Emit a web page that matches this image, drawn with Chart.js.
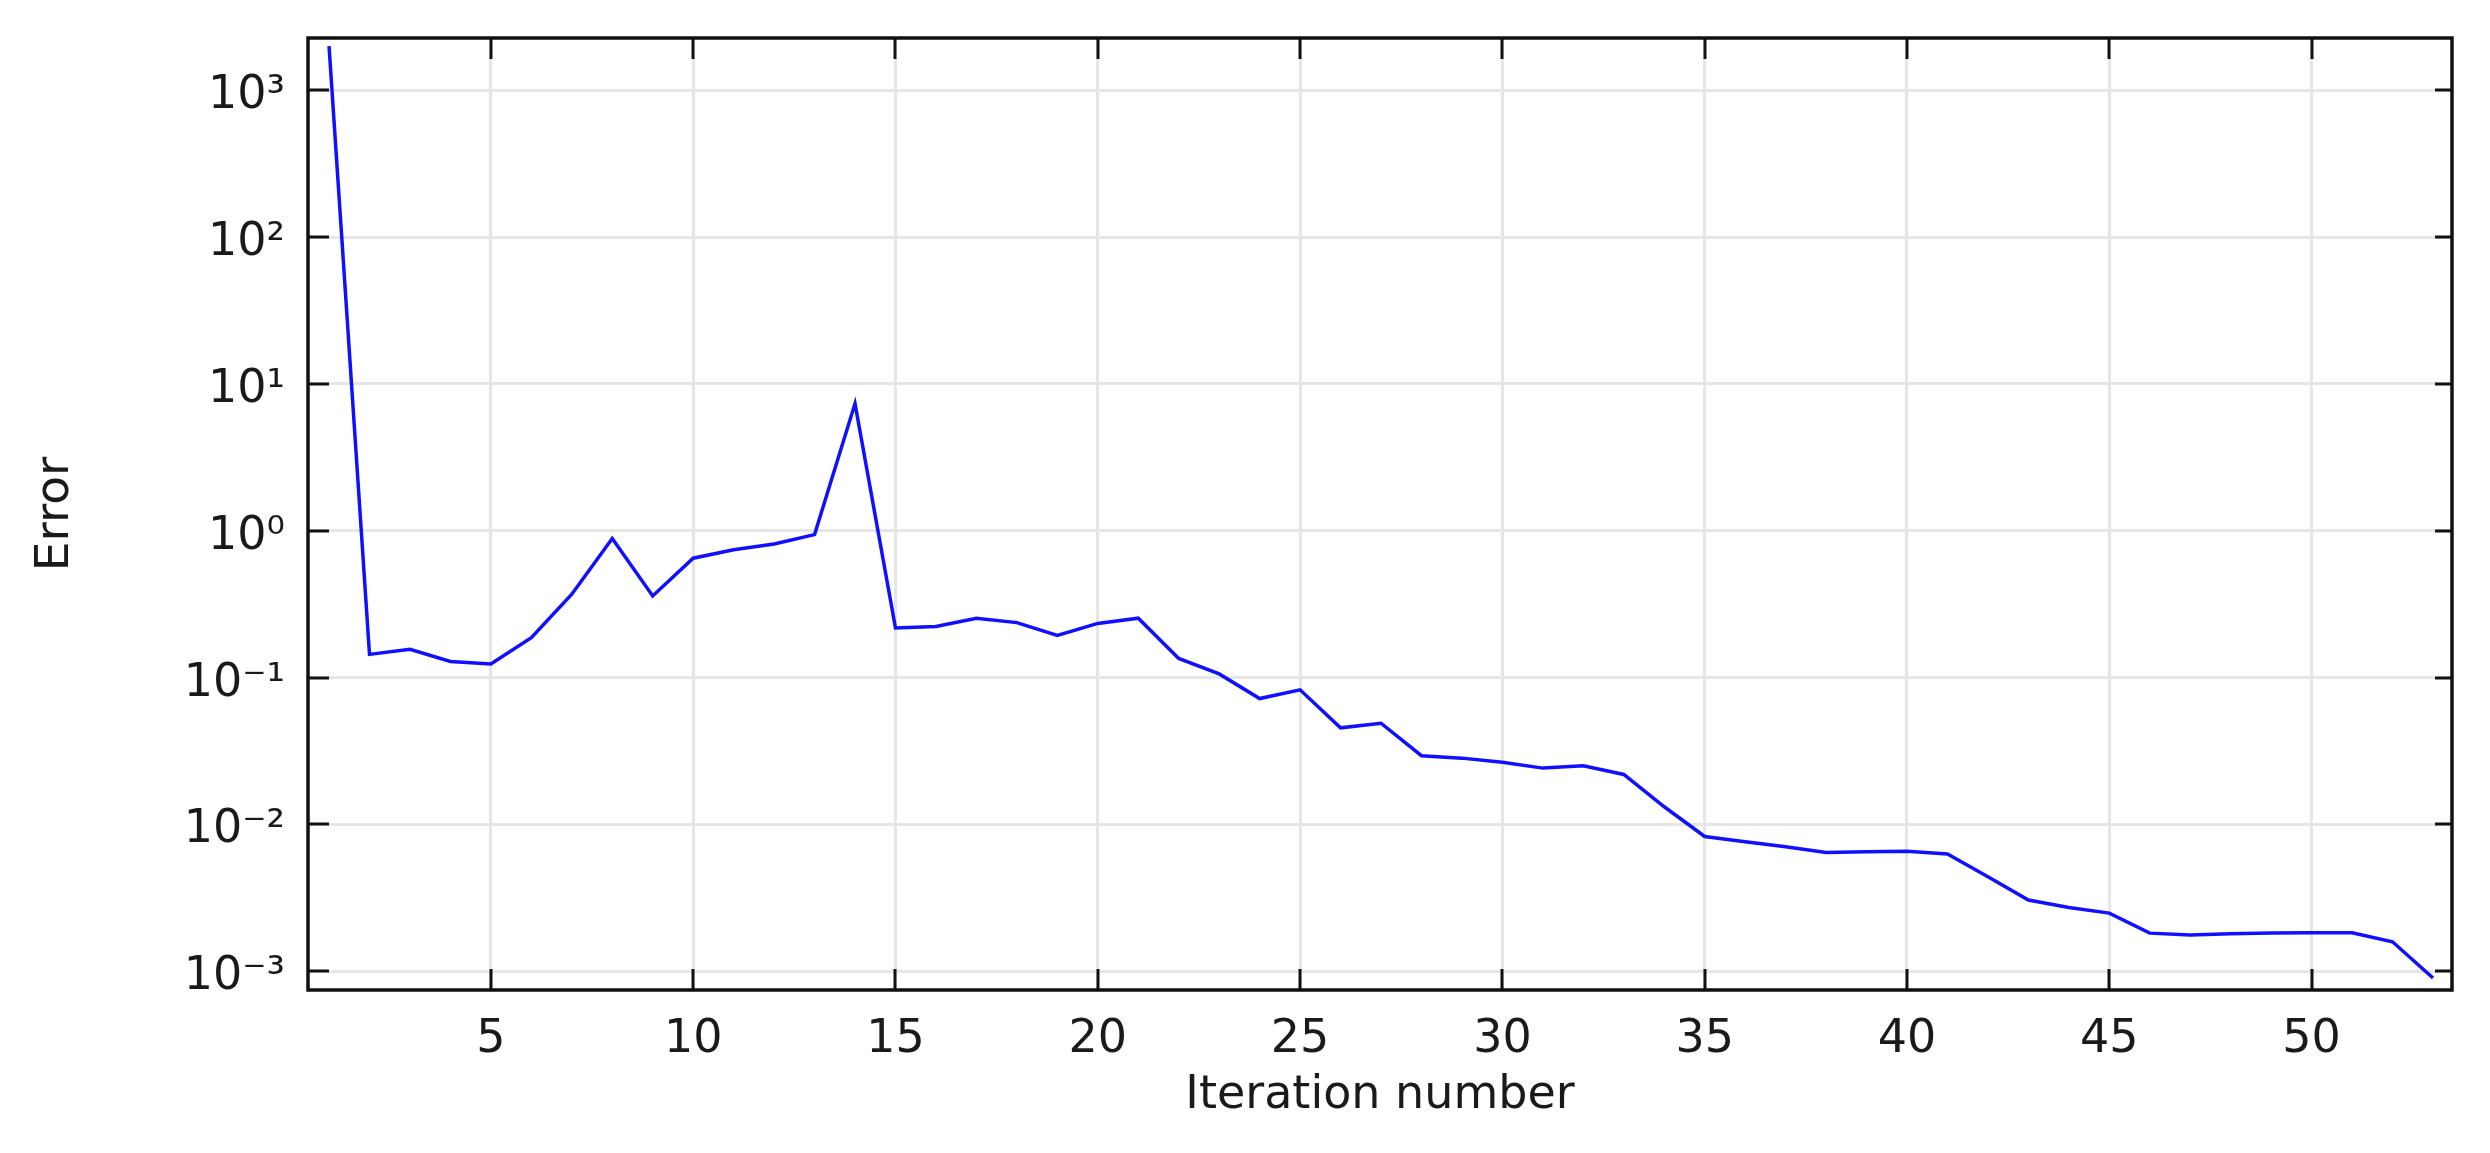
<!DOCTYPE html>
<html>
<head>
<meta charset="utf-8">
<script src="https://cdn.jsdelivr.net/npm/chart.js@4/dist/chart.umd.min.js"></script>
<style>
  html, body { margin: 0; padding: 0; background: #fff; }
  canvas { display: block; }
</style>
</head>
<body>
<canvas id="errChart" width="2490" height="1153"></canvas>
<script>
// iteration numbers and error per iteration
const iterations = [1, 2, 3, 4, 5, 6, 7, 8, 9, 10, 11, 12, 13, 14, 15, 16, 17, 18, 19, 20,
    21, 22, 23, 24, 25, 26, 27, 28, 29, 30, 31, 32, 33, 34, 35, 36, 37, 38, 39, 40,
    41, 42, 43, 44, 45, 46, 47, 48, 49, 50, 51, 52, 53];
const errors = [2000, 0.144, 0.156, 0.129, 0.124, 0.187, 0.37, 0.887, 0.36, 0.651,
    0.743, 0.812, 0.942, 7.35, 0.218, 0.223, 0.254, 0.237, 0.194, 0.234,
    0.254, 0.135, 0.106, 0.072, 0.0826, 0.0455, 0.0489, 0.0294, 0.0283, 0.0265,
    0.0242, 0.0251, 0.0219, 0.0132, 0.00828, 0.00762, 0.00705, 0.00645, 0.00653, 0.00657,
    0.0063, 0.0044, 0.00306, 0.00272, 0.00249, 0.00182, 0.00177, 0.0018, 0.00182, 0.00183,
    0.00183, 0.00159, 0.0009];

const xTicks = [5, 10, 15, 20, 25, 30, 35, 40, 45, 50];
const yTicks = [1e3, 1e2, 1e1, 1e0, 1e-1, 1e-2, 1e-3];
const yTickLabels = ['10³', '10²', '10¹', '10⁰', '10⁻¹', '10⁻²', '10⁻³'];

// frame round the plot with inward tick marks on all four sides
const frameTicks = {
    id: 'frameTicks',
    afterDatasetsDraw(chart) {
        const { ctx, chartArea: a, scales: { x, y } } = chart;
        ctx.save();
        ctx.strokeStyle = '#111';
        ctx.lineWidth = 3;
        ctx.beginPath();
        xTicks.forEach(v => {
            const px = Math.round(x.getPixelForValue(v));
            ctx.moveTo(px, a.bottom); ctx.lineTo(px, a.bottom - 21);
            ctx.moveTo(px, a.top); ctx.lineTo(px, a.top + 21);
        });
        yTicks.forEach(v => {
            const py = Math.round(y.getPixelForValue(v));
            ctx.moveTo(a.left, py); ctx.lineTo(a.left + 21, py);
            ctx.moveTo(a.right, py); ctx.lineTo(a.right - 17, py);
        });
        ctx.stroke();
        ctx.lineWidth = 3.5;
        ctx.strokeRect(a.left, a.top, a.right - a.left, a.bottom - a.top);
        ctx.restore();
    }
};

Chart.defaults.font.family = "'DejaVu Sans', sans-serif";
Chart.defaults.color = '#1a1a1a';

window.onload = function() {
    const ctx = document.getElementById('errChart').getContext('2d');
    new Chart(ctx, {
        type: 'line',
        data: {
            datasets: [{
                label: 'Error',
                data: iterations.map((it, i) => ({ x: it, y: errors[i] })),
                borderColor: '#1010ff',
                borderWidth: 3.5,
                pointRadius: 0,
                tension: 0,
                fill: false
            }]
        },
        options: {
            responsive: false,
            animation: false,
            layout: { padding: { top: 38, right: 38, left: 0, bottom: 0 } },
            plugins: {
                legend: { display: false },
                tooltip: { enabled: false }
            },
            scales: {
                x: {
                    type: 'linear',
                    min: 0.48,
                    max: 53.47,
                    afterBuildTicks: s => { s.ticks = xTicks.map(v => ({ value: v })); },
                    afterFit: s => { s.height = 163; s.paddingLeft = 0; s.paddingRight = 0; },
                    grid: { color: '#e6e6e6', lineWidth: 3, drawTicks: false },
                    border: { display: false },
                    ticks: {
                        font: { size: 46 },
                        padding: 22,
                        maxRotation: 0
                    },
                    title: {
                        display: true,
                        text: 'Iteration number',
                        font: { size: 46 },
                        padding: { top: 0, bottom: 29 }
                    }
                },
                y: {
                    type: 'logarithmic',
                    min: 7.46e-4,
                    max: 2270,
                    afterBuildTicks: s => { s.ticks = yTicks.map(v => ({ value: v })); },
                    afterFit: s => { s.width = 308; s.paddingTop = 0; s.paddingBottom = 0; },
                    grid: { color: '#e6e6e6', lineWidth: 3, drawTicks: false },
                    border: { display: false },
                    ticks: {
                        font: { size: 46 },
                        padding: 23,
                        labelOffset: 6,
                        callback: v => yTickLabels[yTicks.indexOf(v)] ?? ''
                    },
                    title: {
                        display: true,
                        text: 'Error',
                        font: { size: 47 },
                        padding: { top: 28, bottom: 0 }
                    }
                }
            }
        },
        plugins: [frameTicks]
    });
};
</script>
</body>
</html>
